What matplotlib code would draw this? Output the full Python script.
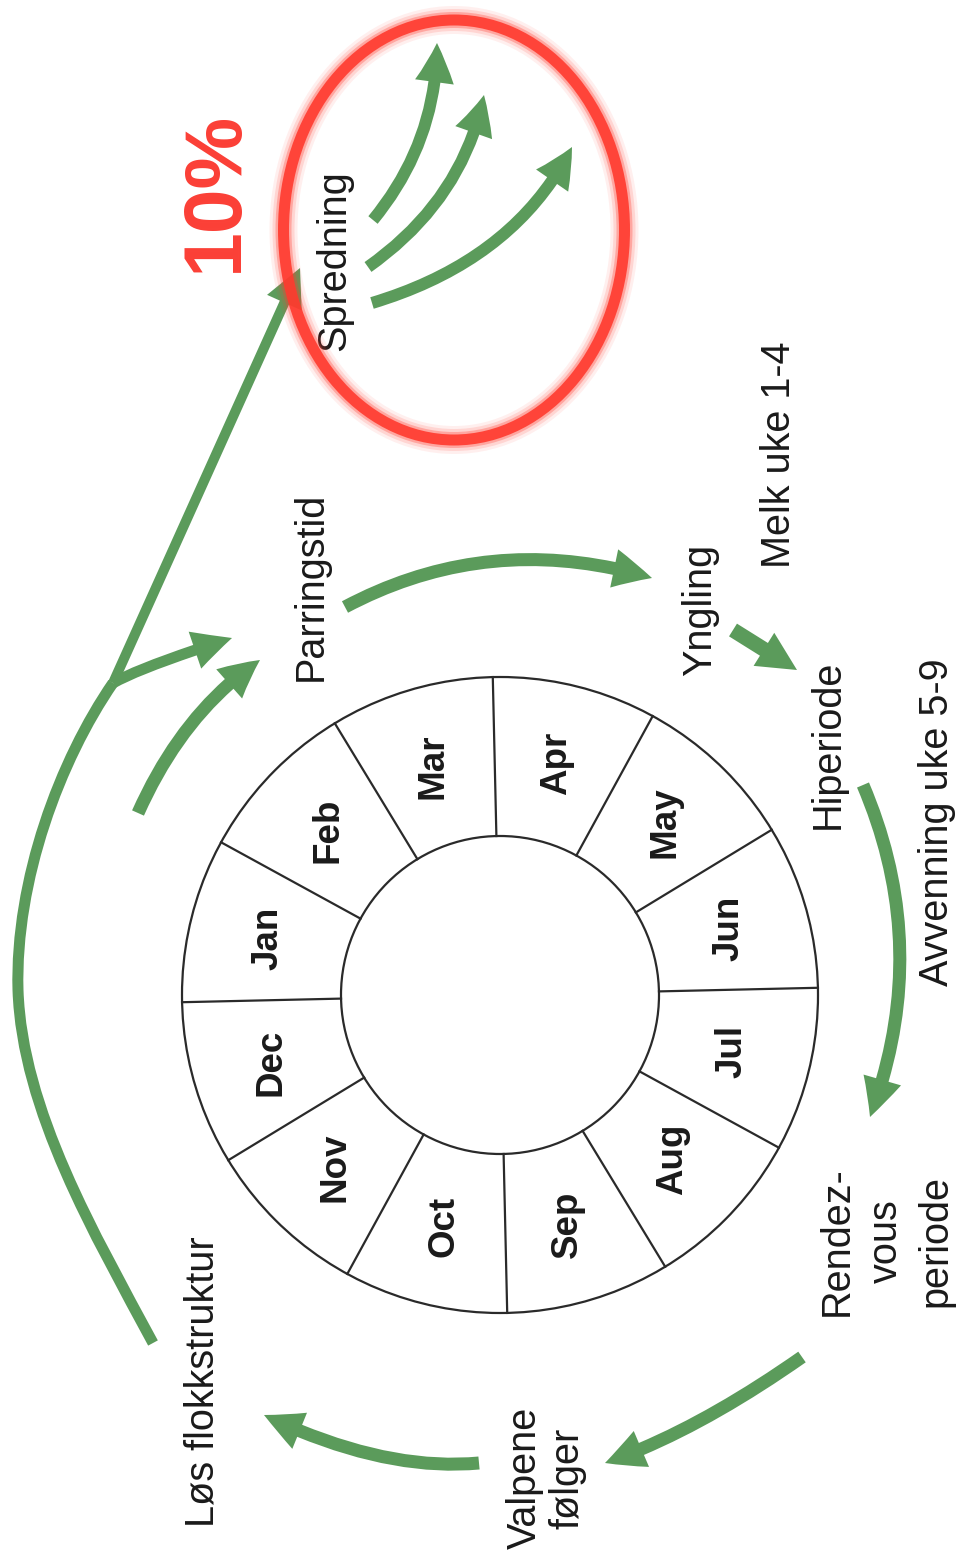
# Wolf year cycle diagram (rotated 90 degrees, as in the scanned original)
import matplotlib
matplotlib.use('Agg')
import matplotlib.pyplot as plt
import numpy as np
from matplotlib.patches import Circle, Ellipse, FancyArrowPatch, PathPatch
from matplotlib.path import Path

plt.rcParams['font.family'] = ['Liberation Sans', 'DejaVu Sans']

##### Data (pixel coordinates, y pointing down) #####

# months around the ring, clockwise starting at the left
months = ['Jan', 'Feb', 'Mar', 'Apr', 'May', 'Jun',
          'Jul', 'Aug', 'Sep', 'Oct', 'Nov', 'Dec']

# stage labels
stage_text = ['Spredning', 'Parringstid', 'Melk uke 1-4', 'Yngling', 'Hiperiode',
              'Avvenning uke 5-9', 'Rendez-\nvous\nperiode', 'Valpene\nfølger',
              'Løs flokkstruktur']
stage_x = [334, 311, 779, 700, 828, 937, 886, 546, 203]
stage_y = [261, 586, 455, 610, 744, 822, 1241, 1478, 1382]
stage_spacing = [1.2, 1.2, 1.2, 1.2, 1.2, 1.2, 1.38, 1.15, 1.2]

# curved arrows as quadratic beziers: start, control, end, shaft width
arrow_start = [(113, 683), (138, 813), (345, 607), (733, 630), (863, 785),
               (802, 1357), (479, 1463), (373, 220), (368, 267), (372, 303)]
arrow_ctrl = [(141, 667), (183, 712), (490, 530), (765, 650), (933, 949),
              (695, 1432), (383, 1472), (437, 142), (463, 200), (515, 260)]
arrow_end = [(232, 638), (260, 660), (652, 578), (797, 670), (870, 1117),
             (605, 1463), (264, 1415), (437, 43), (484, 95), (572, 147)]
arrow_width = [11, 13, 13, 15, 13, 13, 13, 12, 12, 12]

# long trunk from "Løs flokkstruktur" up to "Spredning"
trunk_pts = [(153, 1343), (95, 1235), (22, 1110), (18, 990),
             (15, 880), (60, 760), (113, 683)]
trunk_tip = (300, 268)

percent_label = '10%'

##### Figure #####
fig = plt.figure(figsize=(9.62, 15.58), dpi=100)
ax = fig.add_axes([0, 0, 1, 1])
ax.set_xlim(0, 962)
ax.set_ylim(1558, 0)
ax.axis('off')

green = '#5b9b5b'
ink = '#2a2a2a'
px = 72 / 100  # points per pixel

# month ring
cx, cy = 500, 995
r_out, r_in = 318, 159
rot = 1.3
ax.add_patch(Circle((cx, cy), r_out, fill=False, ec=ink, lw=1.6))
ax.add_patch(Circle((cx, cy), r_in, fill=False, ec=ink, lw=1.6))
for k in range(12):
    a = np.deg2rad(180 + rot - 30 * k)
    ax.plot([cx + r_in * np.cos(a), cx + r_out * np.cos(a)],
            [cy - r_in * np.sin(a), cy - r_out * np.sin(a)], color=ink, lw=1.6)
r_mid = (r_out + r_in) / 2
for i, m in enumerate(months):
    a = np.deg2rad(180 + rot - 15 - 30 * i)
    ax.text(cx + r_mid * np.cos(a), cy - r_mid * np.sin(a), m, rotation=90,
            ha='center', va='center', fontsize=26.5, fontweight='bold', color='#1a1a1a')

# stage labels
for t, x, y, ls in zip(stage_text, stage_x, stage_y, stage_spacing):
    ax.text(x, y, t, rotation=90, ha='center', va='center', fontsize=28.5,
            color='#1a1a1a', multialignment='center', linespacing=ls)

# trunk curve (two cubic segments) plus straight arrow to the spread circle
codes = [Path.MOVETO] + [Path.CURVE4] * 6
ax.add_patch(PathPatch(Path(trunk_pts, codes), fill=False, ec=green,
                       lw=11 * px, capstyle='butt'))
j = trunk_pts[-1]
mid = ((j[0] + trunk_tip[0]) / 2, (j[1] + trunk_tip[1]) / 2)
arr = FancyArrowPatch(path=Path([j, mid, trunk_tip], [Path.MOVETO, Path.CURVE3, Path.CURVE3]),
                      arrowstyle='simple,head_length=38,head_width=38,tail_width=10',
                      mutation_scale=px, fc=green, ec='none', zorder=3)
ax.add_patch(arr)

# all other arrows
for p0, c, p2, w in zip(arrow_start, arrow_ctrl, arrow_end, arrow_width):
    path = Path([p0, c, p2], [Path.MOVETO, Path.CURVE3, Path.CURVE3])
    ax.add_patch(FancyArrowPatch(path=path,
                                 arrowstyle=f'simple,head_length=39,head_width=39,tail_width={w}',
                                 mutation_scale=px, fc=green, ec='none', zorder=3))

# red glowing ellipse around the spreading arrows
for lw, al in [(28, 0.08), (22, 0.14), (16, 0.3), (11, 0.9)]:
    ax.add_patch(Ellipse((454, 230), 341, 420, fill=False, ec='#ff3a2e',
                         lw=lw * px, alpha=al, zorder=5))

ax.text(216, 191, percent_label, rotation=90, ha='center', va='center',
        fontsize=58, fontweight='bold', color='#fb3f36')

plt.savefig('out.png', dpi=100, facecolor='white')
